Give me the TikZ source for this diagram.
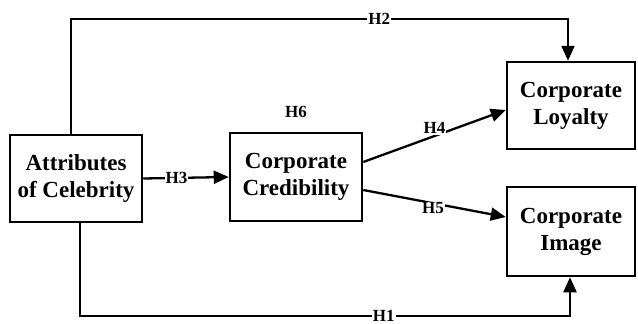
\documentclass[tikz,border=0pt]{standalone}
\usepackage{fontspec}
\setmainfont{Liberation Serif}
\usetikzlibrary{arrows.meta}
\tikzset{
  boxnode/.style={draw, line width=2.5pt, align=center, inner sep=0pt,
    font=\fontsize{23}{27}\selectfont\bfseries},
  arr/.style={line width=2.3pt, -{Triangle[length=15pt,width=13pt]}},
  lbl/.style={fill=white, inner sep=1pt, font=\fontsize{17}{20}\selectfont\bfseries},
}
\begin{document}
\begin{tikzpicture}[x=1pt,y=-1pt]
\useasboundingbox (0,0) rectangle (638,324);
\node[boxnode, minimum width=132pt, minimum height=87pt] (attr) at (76,178.5) {Attributes\\of Celebrity};
\node[boxnode, minimum width=132pt, minimum height=88pt] (cred) at (296,177) {Corporate\\Credibility};
\node[boxnode, minimum width=128pt, minimum height=87pt] (loy) at (571,105.5) {Corporate\\Loyalty};
\node[boxnode, minimum width=128pt, minimum height=89pt] (img) at (571,231.5) {Corporate\\Image};
\node[lbl, fill=none] (h6) at (296,112) {H6};

\draw[arr] ([xshift=-5pt]attr.north) -- ++(0,-115) -| node[lbl, pos=0.31] {H2} ([xshift=-3pt]loy.north);
\draw[arr] ([xshift=4pt]attr.south) -- ++(0,93) -| node[lbl, pos=0.31, inner ysep=0pt] {H1} ([xshift=-1pt]img.south);
\draw[arr] (attr.east) -- node[lbl, pos=0.39] {H3} (cred.west);
\draw[arr] ([yshift=15pt]cred.east) -- node[lbl, pos=0.5, yshift=8pt] {H4} ([yshift=-4.5pt]loy.west);
\draw[arr] ([yshift=-13pt]cred.east) -- node[lbl, pos=0.49, yshift=-5pt] {H5} ([yshift=14.5pt]img.west);
\end{tikzpicture}
\end{document}
